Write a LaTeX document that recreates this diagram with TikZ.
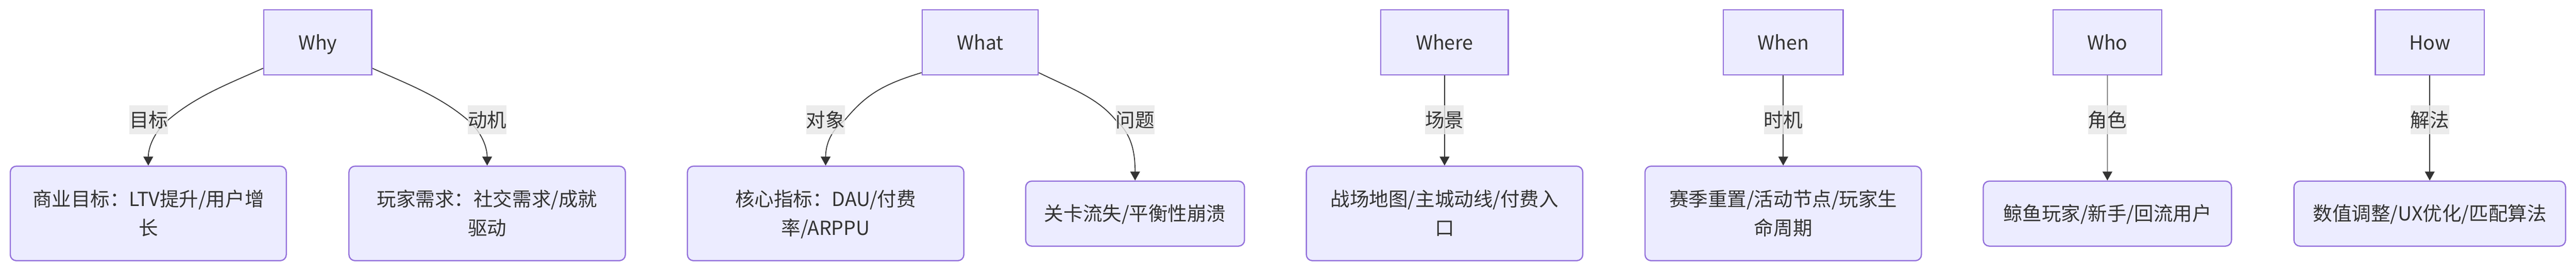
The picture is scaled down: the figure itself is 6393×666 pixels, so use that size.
\documentclass[tikz,border=0pt]{standalone}
\usepackage{fontspec}
\setmainfont{Noto Sans CJK SC}
\usetikzlibrary{arrows.meta,calc}
\definecolor{txt}{HTML}{333333}
\definecolor{nfill}{HTML}{ECECFF}
\definecolor{nstroke}{HTML}{9370DB}
\definecolor{lbg}{HTML}{E8E8E8}
\pgfdeclarelayer{bg}
\pgfdeclarelayer{edges}
\pgfsetlayers{bg,edges,main}
\newcommand{\mytopstrut}{\rule{0pt}{27pt}}
\newcommand{\mybotstrut}{\rule[-9pt]{0pt}{9pt}}
\tikzset{
  topbox/.style={draw=nstroke, fill=nfill, line width=1.5pt, minimum height=80.5pt,
    inner sep=0pt, text=txt, text height=27pt, text depth=9pt,
    font=\fontsize{24pt}{36pt}\selectfont},
  leafbox/.style={draw=nstroke, fill=nfill, line width=1.5pt, rounded corners=7.5pt,
    inner sep=0pt, align=center, text=txt, font=\fontsize{24pt}{36pt}\selectfont},
  lbl/.style={fill=lbg, fill opacity=0.8, text opacity=1, inner sep=0pt,
    text height=27pt, text depth=9pt, text=txt, font=\fontsize{24pt}{36pt}\selectfont},
  edge/.style={draw=txt, line width=1.1pt, -{Triangle[length=11pt,width=12pt]}},
}
\begin{document}
\begin{tikzpicture}[x=0.5pt,y=-0.5pt]
\begin{pgfonlayer}{bg}
\fill[white] (0,0) rectangle (6393,666);
\end{pgfonlayer}
\useasboundingbox (0,0) rectangle (6393,666);

% top boxes
\node[topbox, minimum width=134pt] (why) at (788.5,105) {Why};
\node[topbox, minimum width=144pt] (what) at (2432.5,105) {What};
\node[topbox, minimum width=158pt] (where) at (3585,105) {Where};
\node[topbox, minimum width=148.5pt] (when) at (4425.5,105) {When};
\node[topbox, minimum width=135pt] (who) at (5230,105) {Who};
\node[topbox, minimum width=135pt] (how) at (6030,105) {How};

% leaves
\node[leafbox, minimum width=342.5pt, minimum height=117pt] (leaf1) at (368,528.5)
  {\mytopstrut 商业目标：LTV提升/用户增\\长\mybotstrut};
\node[leafbox, minimum width=343pt, minimum height=117pt] (leaf2) at (1209,528.5)
  {\mytopstrut 玩家需求：社交需求/成就\\驱动\mybotstrut};
\node[leafbox, minimum width=343pt, minimum height=117pt] (leaf3) at (2049,528.5)
  {\mytopstrut 核心指标：DAU/付费\\率/ARPPU\mybotstrut};
\node[leafbox, minimum width=271.5pt, minimum height=80.5pt] (leaf4) at (2817,529)
  {\mytopstrut 关卡流失/平衡性崩溃\mybotstrut};
\node[leafbox, minimum width=343pt, minimum height=117pt] (leaf5) at (3585,528.5)
  {\mytopstrut 战场地图/主城动线/付费入\\口\mybotstrut};
\node[leafbox, minimum width=343pt, minimum height=117pt] (leaf6) at (4425.5,528.5)
  {\mytopstrut 赛季重置/活动节点/玩家生\\命周期\mybotstrut};
\node[leafbox, minimum width=308pt, minimum height=80.5pt] (leaf7) at (5230,529)
  {\mytopstrut 鲸鱼玩家/新手/回流用户\mybotstrut};
\node[leafbox, minimum width=337pt, minimum height=80.5pt] (leaf8) at (6030,529)
  {\mytopstrut 数值调整/UX优化/匹配算法\mybotstrut};

% edge labels
\node[lbl] (lab1) at (369,297) {目标};
\node[lbl] (lab2) at (1209,297) {动机};
\node[lbl] (lab3) at (2048.5,297) {对象};
\node[lbl] (lab4) at (2817,297) {问题};
\node[lbl] (lab5) at (3585,297) {场景};
\node[lbl] (lab6) at (4425.5,297) {时机};
\node[lbl] (lab7) at (5230,297) {角色};
\node[lbl] (lab8) at (6030,297) {解法};

% edges
\begin{pgfonlayer}{edges}
\draw[edge] ($(why.south west)+(0,-18)$) .. controls +(-82,37) and +(70,-60) .. (lab1.east)
  .. controls +(-35,30) and +(0,-45) .. (leaf1.north);
\draw[edge] ($(why.south east)+(0,-18)$) .. controls +(82,37) and +(-70,-60) .. (lab2.west)
  .. controls +(35,30) and +(0,-45) .. (leaf2.north);
\draw[edge] ($(what.south west)+(0,-7)$) .. controls +(-100,30) and +(50,-60) .. (lab3.east)
  .. controls +(-40,30) and +(0,-45) .. (leaf3.north);
\draw[edge] ($(what.south east)+(0,-7)$) .. controls +(80,39) and +(-45,-55) .. (lab4.west)
  .. controls +(40,35) and +(0,-70) .. (leaf4.north);
\draw[edge] (where.south) -- (leaf5.north);
\draw[edge] (when.south) -- (leaf6.north);
\draw[edge] (who.south) -- (leaf7.north);
\draw[edge] (how.south) -- (leaf8.north);
\end{pgfonlayer}
\end{tikzpicture}
\end{document}
